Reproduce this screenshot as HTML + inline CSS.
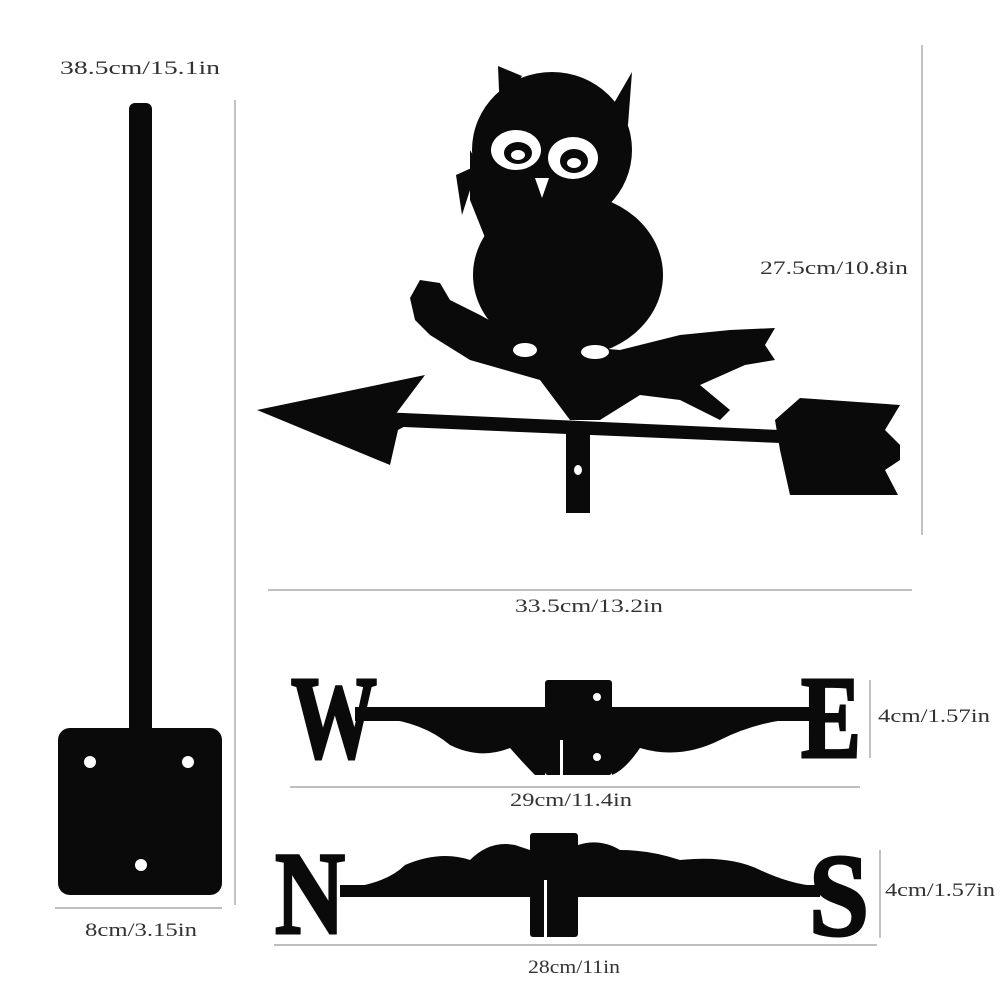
<!DOCTYPE html>
<html><head><style>
html,body{margin:0;padding:0;background:#fff;}
svg{display:block;}
text{font-family:"Liberation Serif",serif;}
.l{font-size:19px;fill:#333;}
.big{font-size:118px;font-weight:bold;fill:#0a0a0a;stroke:#0a0a0a;stroke-width:3;}
</style></head><body>
<svg width="1000" height="1000" viewBox="0 0 1000 1000" xmlns="http://www.w3.org/2000/svg">
<rect width="1000" height="1000" fill="#fff"/>
<g stroke="#999" stroke-width="1.2">
<line x1="235" y1="100" x2="235" y2="905"/>
<line x1="55" y1="908" x2="222" y2="908"/>
<line x1="922" y1="45" x2="922" y2="535"/>
<line x1="268" y1="590" x2="912" y2="590"/>
<line x1="870" y1="680" x2="870" y2="758"/>
<line x1="290" y1="787" x2="860" y2="787"/>
<line x1="880" y1="850" x2="880" y2="938"/>
<line x1="274" y1="945" x2="877" y2="945"/>
</g>
<text class="l" x="60" y="74" textLength="160" lengthAdjust="spacingAndGlyphs">38.5cm/15.1in</text>
<text class="l" x="85" y="936" textLength="112" lengthAdjust="spacingAndGlyphs">8cm/3.15in</text>
<text class="l" x="760" y="274" textLength="148" lengthAdjust="spacingAndGlyphs">27.5cm/10.8in</text>
<text class="l" x="515" y="612" textLength="148" lengthAdjust="spacingAndGlyphs">33.5cm/13.2in</text>
<text class="l" x="878" y="722" textLength="112" lengthAdjust="spacingAndGlyphs">4cm/1.57in</text>
<text class="l" x="510" y="806" textLength="122" lengthAdjust="spacingAndGlyphs">29cm/11.4in</text>
<text class="l" x="885" y="896" textLength="110" lengthAdjust="spacingAndGlyphs">4cm/1.57in</text>
<text class="l" x="528" y="973" textLength="92" lengthAdjust="spacingAndGlyphs">28cm/11in</text>

<rect x="58" y="728" width="164" height="167" rx="12" fill="#0a0a0a"/>
<rect x="129" y="103" width="23" height="720" rx="6" fill="#0a0a0a"/>
<circle cx="90" cy="762" r="6" fill="#fff"/>
<circle cx="188" cy="762" r="6" fill="#fff"/>
<circle cx="141" cy="865" r="6" fill="#fff"/>

<g fill="#0a0a0a">
<path d="M257,410 L425,375 L395,415 L420,418 L398,430 L390,465 Z"/>
<path d="M380,412 L780,430 L780,443 L380,426 Z"/>
<path d="M775,420 L800,398 L900,405 L885,430 L900,445 L900,460 L885,470 L898,495 L790,495 L780,450 Z"/>
<rect x="566" y="425" width="24" height="88"/>
<path d="M410,298 L420,280 L440,283 L450,300 L480,315 L525,340 L560,345 L620,350 L680,335 L730,330 L775,328 L765,345 L775,360 L745,365 L700,385 L730,410 L720,420 L680,400 L640,395 L600,420 L570,420 L540,380 L470,360 L430,335 L415,320 Z"/>
<ellipse cx="568" cy="275" rx="95" ry="82"/>
<ellipse cx="552" cy="150" rx="80" ry="78"/>
<path d="M470,150 L470,200 L490,250 L530,255 Z"/>
<path d="M498,66 L522,76 L500,115 Z"/>
<path d="M632,72 L610,110 L628,125 Z"/>
<path d="M478,165 L456,175 L462,215 Z"/>
</g>
<g fill="#fff">
<ellipse cx="516" cy="150" rx="25" ry="20"/>
<ellipse cx="573" cy="158" rx="25" ry="21"/>
<path d="M535,178 L549,178 L542,198 Z"/>
<ellipse cx="525" cy="350" rx="12" ry="7"/>
<ellipse cx="595" cy="352" rx="14" ry="7"/>
<ellipse cx="578" cy="470" rx="4" ry="5"/>
</g>
<g fill="#0a0a0a">
<ellipse cx="518" cy="153" rx="14" ry="11"/>
<ellipse cx="574" cy="161" rx="14" ry="12"/>
</g>
<g fill="#fff"><ellipse cx="518" cy="155" rx="7" ry="5"/><ellipse cx="574" cy="163" rx="7" ry="5"/></g>

<g fill="#0a0a0a">
<rect x="355" y="707" width="455" height="14"/>
<path d="M375,718 Q420,720 450,745 Q480,760 510,748 Q525,765 535,775 L545,775 L545,720 Z"/>
<path d="M612,720 L612,775 Q625,770 640,748 Q680,760 720,740 Q760,720 805,718 Z"/>
<rect x="545" y="680" width="67" height="95" rx="3"/>
</g>
<rect x="560" y="740" width="3" height="36" fill="#fff"/>
<circle cx="597" cy="697" r="4" fill="#fff"/>
<circle cx="597" cy="757" r="4" fill="#fff"/>
<text class="big" x="291" y="757" textLength="86" lengthAdjust="spacingAndGlyphs">W</text>
<text class="big" x="801" y="757" textLength="60" lengthAdjust="spacingAndGlyphs">E</text>

<g fill="#0a0a0a">
<rect x="340" y="885" width="480" height="12"/>
<path d="M360,886 Q390,880 405,865 Q440,850 470,860 Q490,840 515,845 L530,850 L530,886 Z"/>
<path d="M578,886 L578,845 Q600,838 620,850 Q650,850 680,860 Q730,855 760,870 Q790,884 815,886 Z"/>
<rect x="530" y="833" width="48" height="104" rx="3"/>
</g>
<rect x="544" y="880" width="3" height="58" fill="#fff"/>
<text class="big" x="275" y="933" textLength="70" lengthAdjust="spacingAndGlyphs">N</text>
<text class="big" x="809" y="935" textLength="60" lengthAdjust="spacingAndGlyphs">S</text>
</svg>
</body></html>
